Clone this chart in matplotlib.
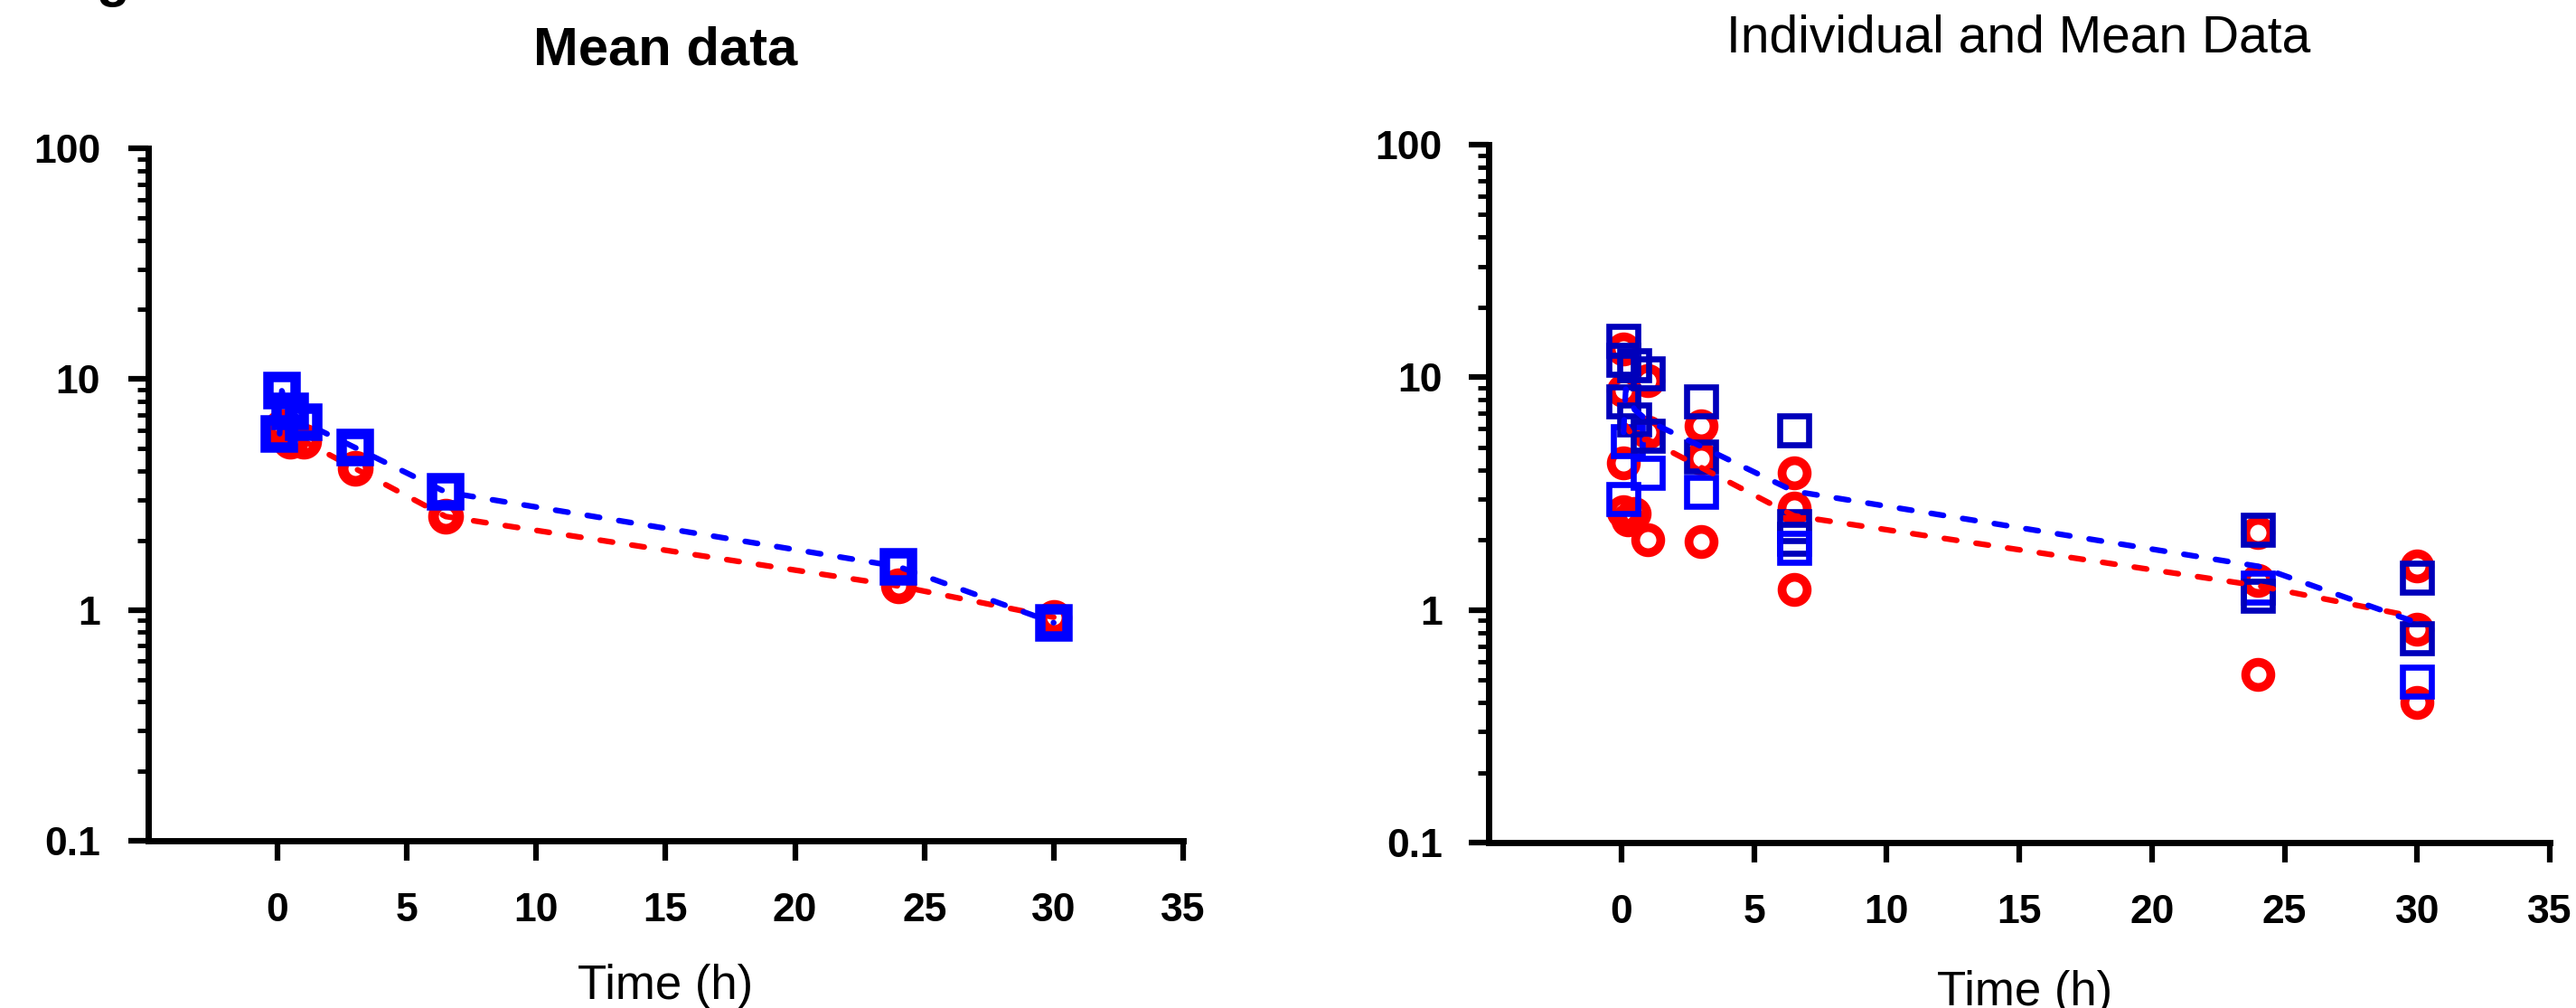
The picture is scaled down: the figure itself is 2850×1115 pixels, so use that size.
import matplotlib
matplotlib.use("Agg")
import matplotlib.pyplot as plt
from matplotlib.ticker import LogLocator, NullFormatter

plt.rcParams["font.family"] = ["Liberation Sans", "DejaVu Sans"]
plt.rcParams["lines.scale_dashes"] = False

RED = "#FF0000"
BLUE = "#0000FF"
DARK_BLUE = "#0000BB"

# mean profiles (both panels)
mean_time = [0.083, 0.167, 0.5, 1, 3, 6.5, 24, 30]
mean_red = [5.9, 6.2, 5.4, 5.4, 4.1, 2.54, 1.27, 0.93]
mean_blue = [5.8, 8.9, 7.25, 6.5, 5.05, 3.24, 1.54, 0.88]

# individual data, red circles
ind_red_time = [0.083, 0.083, 0.083, 0.083, 0.25, 0.5, 1, 1, 1,
                3, 3, 3, 6.5, 6.5, 6.5, 24, 24, 24, 30, 30, 30]
ind_red_conc = [13.2, 8.8, 4.3, 2.65, 2.43, 2.6, 9.7, 5.8, 2.0,
                6.2, 4.5, 1.96, 3.9, 2.75, 1.22, 2.16, 1.34, 0.53, 1.55, 0.83, 0.40]

# individual data, blue squares (two shades)
ind_blue_time = [0.083, 0.083, 0.083, 0.083, 0.25, 0.5, 0.5, 1, 1, 1,
                 3, 3, 3, 6.5, 6.5, 6.5, 6.5, 24, 24, 24, 30, 30, 30]
ind_blue_conc = [14.4, 11.9, 7.9, 3.0, 5.3, 11.3, 6.6, 10.4, 5.6, 3.9,
                 7.9, 4.55, 3.23, 5.9, 2.3, 2.03, 1.85, 2.22, 1.25, 1.15, 1.38, 0.757, 0.49]
ind_blue_dark = [1, 1, 1, 0, 0, 1, 1, 1, 1, 0,
                 1, 1, 0, 1, 1, 1, 0, 1, 0, 1, 1, 1, 0]

x_ticks = [0, 5, 10, 15, 20, 25, 30, 35]
y_ticks = [0.1, 1, 10, 100]
y_tick_labels = ["0.1", "1", "10", "100"]

DASH = (0, (10, 15.5))


def style_axes(ax, ypad):
    ax.set_yscale("log")
    ax.set_ylim(0.1, 100)
    ax.set_xlim(-5, 35)
    ax.set_xticks(x_ticks, [str(t) for t in x_ticks], fontweight="bold", fontsize=32)
    ax.set_yticks(y_ticks, y_tick_labels, fontweight="bold", fontsize=32)
    ax.yaxis.set_minor_locator(LogLocator(base=10, subs=range(2, 10)))
    ax.yaxis.set_minor_formatter(NullFormatter())
    for side in ["top", "right"]:
        ax.spines[side].set_visible(False)
    for side in ["left", "bottom"]:
        ax.spines[side].set_linewidth(5)
    ax.tick_params(axis="x", which="major", length=16, width=4.5, pad=25)
    ax.tick_params(axis="y", which="major", length=16, width=4.5, pad=ypad)
    ax.tick_params(axis="y", which="minor", length=8.5, width=3.5)
    ax.tick_params(axis="x", which="minor", length=0)


fig = plt.figure(figsize=(28.5, 11.15), dpi=100)

ax1 = fig.add_axes([0.0575, 0.1659, 0.4018, 0.687])
ax1.plot(mean_time, mean_red, ls=DASH, lw=4.5, color=RED, dash_capstyle="round",
         marker="o", ms=20, mew=8.5, mfc="none", mec=RED)
ax1.plot(mean_time, mean_blue, ls=DASH, lw=4.5, color=BLUE, dash_capstyle="round",
         marker="s", ms=22, mew=8.3, mfc="none", mec=BLUE)
style_axes(ax1, 22)

ax2 = fig.add_axes([0.5779, 0.1641, 0.412, 0.6924])
ax2.plot(ind_red_time, ind_red_conc, ls="none", marker="o", ms=20, mew=7,
         mfc="none", mec=RED)
for t, c, d in zip(ind_blue_time, ind_blue_conc, ind_blue_dark):
    ax2.plot(t, c, ls="none", marker="s", ms=22.5, mew=4.8, mfc="none",
             mec=DARK_BLUE if d else BLUE)
ax2.plot(mean_time, mean_red, ls=DASH, lw=4.5, color=RED, dash_capstyle="round")
ax2.plot(mean_time, mean_blue, ls=DASH, lw=4.5, color=BLUE, dash_capstyle="round")
style_axes(ax2, 21)

fig.text(736 / 2850, 1 - 71 / 1115, "Mean data", ha="center", va="baseline",
         fontsize=43, fontweight="bold")
fig.text(2233 / 2850, 1 - 57 / 1115, "Individual and Mean Data", ha="center",
         va="baseline", fontsize=41)
fig.text(736 / 2850, 1 - 1105 / 1115, "Time (h)", ha="center", va="baseline", fontsize=38)
fig.text(2240 / 2850, 1 - 1112 / 1115, "Time (h)", ha="center", va="baseline", fontsize=38)
# cut-off panel letter at the top-left edge
fig.text(125 / 2850, 1 + 4 / 1115, "g", ha="center", va="baseline",
         fontsize=43, fontweight="bold")

fig.savefig("out.png", dpi=100)
